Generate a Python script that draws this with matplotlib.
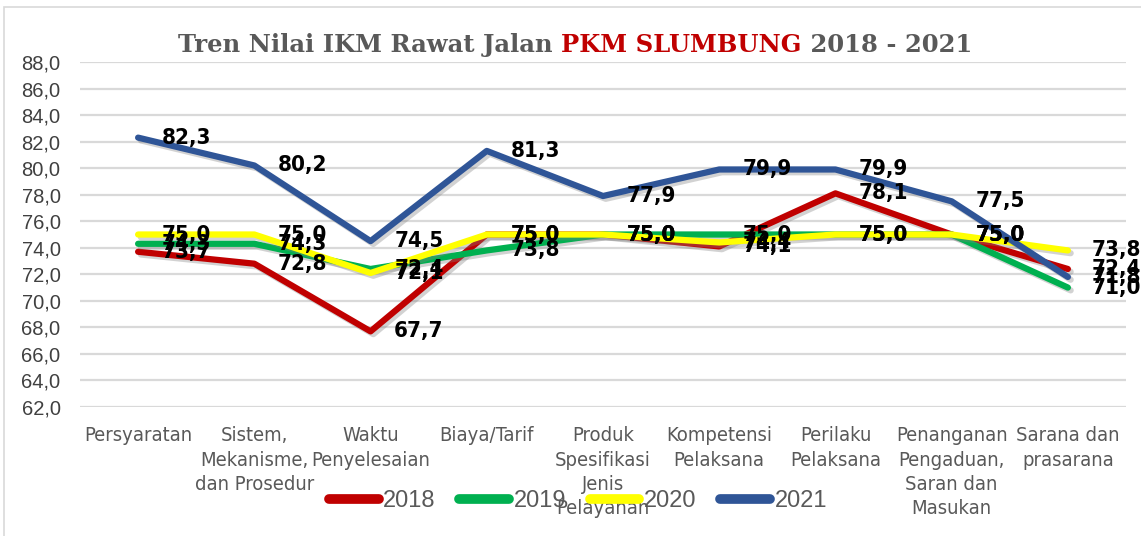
import matplotlib
matplotlib.use("Agg")
import matplotlib.pyplot as plt
import matplotlib.patheffects as pe
from matplotlib.patches import Rectangle
from matplotlib import font_manager

# data
categories = ["Persyaratan", "Sistem,\nMekanisme,\ndan Prosedur", "Waktu\nPenyelesaian",
              "Biaya/Tarif", "Produk\nSpesifikasi\nJenis\nPelayanan", "Kompetensi\nPelaksana",
              "Perilaku\nPelaksana", "Penanganan\nPengaduan,\nSaran dan\nMasukan",
              "Sarana dan\nprasarana"]
years = ["2018", "2019", "2020", "2021"]
v2018 = [73.7, 72.8, 67.7, 75.0, 75.0, 74.1, 78.1, 75.0, 72.4]
v2019 = [74.3, 74.3, 72.4, 73.8, 75.0, 75.0, 75.0, 75.0, 71.0]
v2020 = [75.0, 75.0, 72.1, 75.0, 75.0, 74.4, 75.0, 75.0, 73.8]
v2021 = [82.3, 80.2, 74.5, 81.3, 77.9, 79.9, 79.9, 77.5, 71.8]
colors = ["#c00000", "#00b050", "#ffff00", "#2f5597"]

# condensed DejaVu is the closest thing to Arial Narrow here
cond = [f for f in font_manager.fontManager.ttflist
        if f.name == "DejaVu Sans" and "ondensed" in f.fname and "Bold" not in f.fname and "Oblique" not in f.fname]
cond_b = [f for f in font_manager.fontManager.ttflist
          if f.name == "DejaVu Sans" and "Condensed-Bold." in f.fname]
if cond and cond_b:
    lab_font = font_manager.FontProperties(fname=cond_b[0].fname, size=16)
    tick_font = font_manager.FontProperties(fname=cond[0].fname, size=14.5)
else:
    lab_font = font_manager.FontProperties(family="Liberation Sans", weight="bold", size=15)
    tick_font = font_manager.FontProperties(family="Liberation Sans", size=13.5)

fig = plt.figure(figsize=(11.41, 5.36), dpi=100)
ax = fig.add_axes([80 / 1141, 1 - 407 / 536, (1126 - 80) / 1141, 345 / 536])

x = list(range(len(categories)))
for vals, col in zip([v2018, v2019, v2020, v2021], colors):
    ax.plot(x, vals, color=col, lw=4.5, solid_capstyle="round", zorder=3,
            path_effects=[pe.SimpleLineShadow(offset=(2, -2), alpha=0.35, shadow_color="gray"),
                          pe.Normal()])
for vals in [v2018, v2019, v2020, v2021]:
    for xi, v in zip(x, vals):
        ax.annotate(f"{v:.1f}".replace(".", ","), (xi, v), xytext=(17, 0),
                    textcoords="offset points", ha="left", va="center",
                    fontproperties=lab_font, color="black", zorder=5)

ax.set_xlim(-0.5, len(categories) - 0.5)
ax.set_ylim(62, 88)
yt = [62 + 2 * i for i in range(14)]
ax.set_yticks(yt)
ax.set_yticklabels([f"{t:.1f}".replace(".", ",") for t in yt], fontsize=14.5,
                   family="Liberation Sans", color="#404040")
ax.set_xticks(x)
ax.set_xticklabels(categories, fontproperties=tick_font, color="#595959", linespacing=1.35,
                   va="top")
ax.tick_params(length=0)
ax.tick_params(axis="x", pad=14)
ax.tick_params(axis="y", pad=14)
ax.grid(axis="y", color="#d9d9d9", lw=1.6)
ax.set_axisbelow(True)
for s in ax.spines.values():
    s.set_visible(False)

# legend
handles = ax.get_lines()
leg = fig.legend(handles, years, loc="center", bbox_to_anchor=(578 / 1141, 1 - 501 / 536),
                 ncol=4, frameon=False, handlelength=2.1, handletextpad=0.2,
                 columnspacing=1.0, prop={"family": "Liberation Sans", "size": 17})
for t in leg.get_texts():
    t.set_color("#595959")
for h in leg.legend_handles:
    h.set_linewidth(7)
    h.set_solid_capstyle("round")
    h.set_path_effects([])

# title in three colour parts
parts = [("Tren Nilai IKM Rawat Jalan ", "#595959"), ("PKM SLUMBUNG", "#c00000"),
         (" 2018 - 2021", "#595959")]
fig.canvas.draw()
renderer = fig.canvas.get_renderer()
texts = []
for s, c in parts:
    texts.append(fig.text(0, 1 - 45 / 536, s, color=c, fontsize=17.5, fontweight="bold",
                          family="DejaVu Serif", va="center", ha="left"))
widths = [t.get_window_extent(renderer).width for t in texts]
xpos = 575 - sum(widths) / 2
for t, w in zip(texts, widths):
    t.set_x(xpos / 1141)
    xpos += w

# chart border
fig.patches.append(Rectangle((4 / 1141, -0.01), 1.01, 1 - 7 / 536 + 0.01, transform=fig.transFigure,
                             fill=False, edgecolor="#d9d9d9", lw=1.2))

fig.savefig("out.png", dpi=100)
